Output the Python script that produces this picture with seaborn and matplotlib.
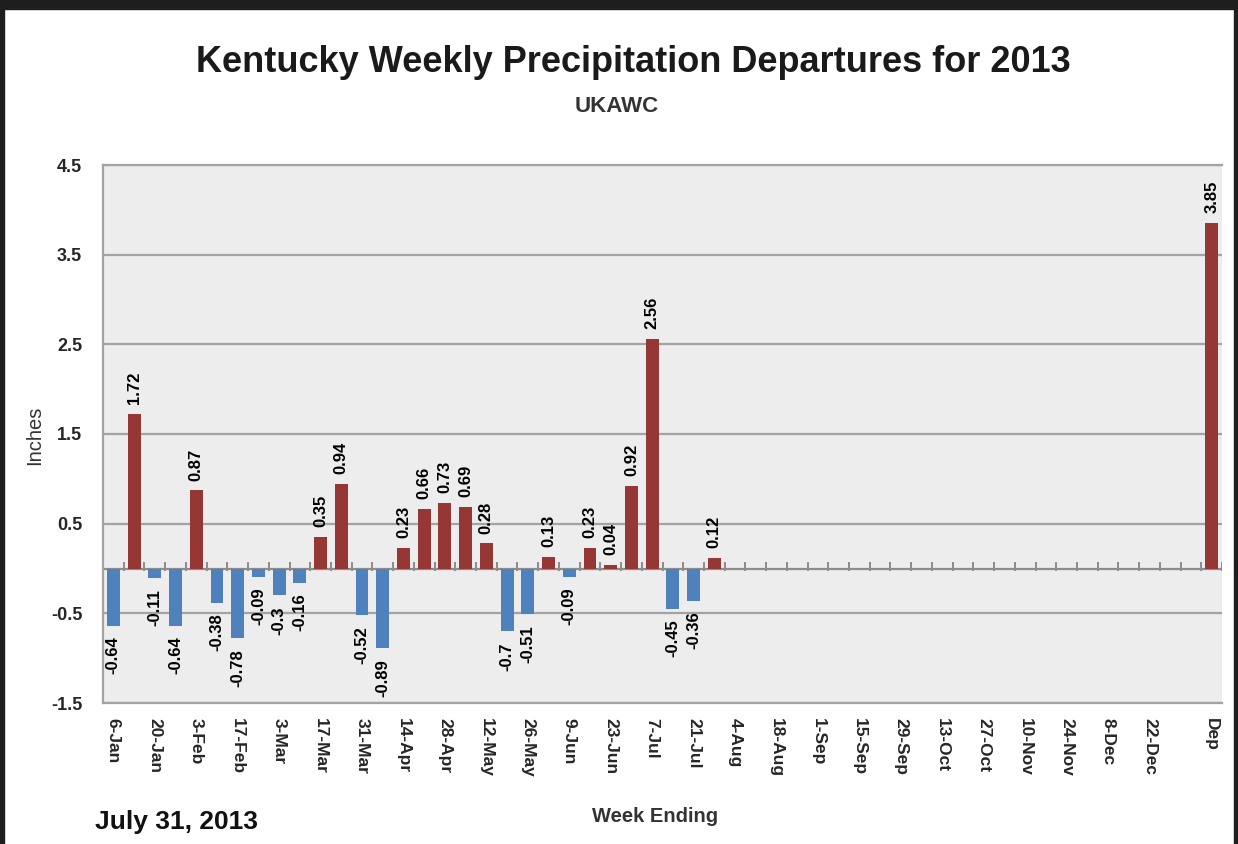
import numpy as np
import pandas as pd
import matplotlib
matplotlib.use("Agg")
import matplotlib.pyplot as plt
from matplotlib.patches import Rectangle
import seaborn as sns

# weekly departures (inches), weeks ending 6-Jan .. 29-Dec
weeks = ["6-Jan", "13-Jan", "20-Jan", "27-Jan", "3-Feb", "10-Feb", "17-Feb", "24-Feb",
         "3-Mar", "10-Mar", "17-Mar", "24-Mar", "31-Mar", "7-Apr", "14-Apr", "21-Apr",
         "28-Apr", "5-May", "12-May", "19-May", "26-May", "2-Jun", "9-Jun", "16-Jun",
         "23-Jun", "30-Jun", "7-Jul", "14-Jul", "21-Jul", "28-Jul", "4-Aug", "11-Aug",
         "18-Aug", "25-Aug", "1-Sep", "8-Sep", "15-Sep", "22-Sep", "29-Sep", "6-Oct",
         "13-Oct", "20-Oct", "27-Oct", "3-Nov", "10-Nov", "17-Nov", "24-Nov", "1-Dec",
         "8-Dec", "15-Dec", "22-Dec", "29-Dec"]
departures = [-0.64, 1.72, -0.11, -0.64, 0.87, -0.38, -0.78, -0.09, -0.3, -0.16,
              0.35, 0.94, -0.52, -0.89, 0.23, 0.66, 0.73, 0.69, 0.28, -0.7,
              -0.51, 0.13, -0.09, 0.23, 0.04, 0.92, 2.56, -0.45, -0.36, 0.12]
dep_label = "Dep"
dep_value = 3.85
y_ticks = [-1.5, -0.5, 0.5, 1.5, 2.5, 3.5, 4.5]

RED = "#953735"
BLUE = "#4f81bd"
GRID = "#a3a3a3"

# full category list: 52 weeks, one empty slot, then the year-to-date departure
categories = weeks + [" ", dep_label]
values = departures + [np.nan] * (len(weeks) - len(departures)) + [np.nan, dep_value]
df = pd.DataFrame({"week": categories, "value": values})
df["sign"] = np.where(df["value"] < 0, "neg", "pos")

sns.set_theme(style="white")
plt.rcParams["font.family"] = ["Liberation Sans", "DejaVu Sans"]
plt.rcParams["axes.unicode_minus"] = False

fig = plt.figure(figsize=(12.38, 8.44), dpi=100)
ax = fig.add_axes([103 / 1238, 1 - 703 / 844, 1119 / 1238, 538 / 844])
ax.set_facecolor("#ededed")

sns.barplot(data=df, x="week", y="value", hue="sign", order=categories,
            hue_order=["pos", "neg"], palette={"pos": RED, "neg": BLUE},
            dodge=False, width=0.62, saturation=1, errorbar=None,
            legend=False, ax=ax, zorder=3, linewidth=0)

ax.set_xlim(-0.5, len(categories) - 0.5)
ax.set_ylim(-1.5, 4.5)
ax.set_yticks(y_ticks)
ax.set_yticklabels([f"{t:g}" for t in y_ticks], fontsize=13, fontweight="bold")
ax.yaxis.grid(True, color=GRID, lw=1.6, zorder=0)
ax.xaxis.grid(False)
ax.set_axisbelow(True)
ax.tick_params(axis="y", length=5, width=1.4, color=GRID, direction="out", pad=10)

# tick labels every other week plus the departure bar
tick_pos = list(range(0, len(weeks), 2)) + [len(categories) - 1]
tick_lab = weeks[::2] + [dep_label]
ax.set_xticks(tick_pos)
ax.set_xticklabels(tick_lab, rotation=270, ha="center", va="top",
                   fontsize=12.5, fontweight="bold")
ax.tick_params(axis="x", length=0, pad=11)
ax.set_xlabel("")
ax.set_ylabel("")

for side in ["top", "bottom", "left"]:
    ax.spines[side].set_color(GRID)
    ax.spines[side].set_linewidth(1.6)
ax.spines["right"].set_visible(False)

# zero line with category tick marks
ax.axhline(0, color="#8c8c8c", lw=1.6, zorder=2)
ax.vlines(np.arange(len(categories) + 1) - 0.5, -0.03, 0.07,
          color="#8c8c8c", lw=1.4, zorder=2)

# value labels
for i, v in enumerate(values):
    if np.isnan(v):
        continue
    if v >= 0:
        ax.text(i, v + 0.11, f"{v:g}", rotation=90, ha="center", va="bottom",
                fontsize=12, fontweight="bold", color="black", zorder=4)
    else:
        ax.text(i, v - 0.12, f"{v:g}", rotation=90, ha="center", va="top",
                fontsize=12, fontweight="bold", color="black", zorder=4)

fig.text(633 / 1238, 1 - 62 / 844, "Kentucky Weekly Precipitation Departures for 2013",
         ha="center", va="center", fontsize=26, fontweight="bold", color="#1a1a1a")
fig.text(617 / 1238, 1 - 107 / 844, "UKAWC", ha="center", va="center",
         fontsize=16, fontweight="bold", color="#333333")
fig.text(35 / 1238, 1 - 435 / 844, "Inches", rotation=90, ha="center", va="center",
         fontsize=14.5, color="#333333")
fig.text(655 / 1238, 1 - 817 / 844, "Week Ending", ha="center", va="center",
         fontsize=14.5, fontweight="bold", color="#333333")
fig.text(95 / 1238, 1 - 822 / 844, "July 31, 2013", ha="left", va="center",
         fontsize=19, fontweight="bold", color="#111111")

# dark frame around the screenshot
fig.add_artist(Rectangle((0, 1 - 9 / 844), 1, 9 / 844, transform=fig.transFigure,
                         color="#1e1e1e", zorder=10))
fig.add_artist(Rectangle((0, 0), 4 / 1238, 1, transform=fig.transFigure,
                         color="#1e1e1e", zorder=10))
fig.add_artist(Rectangle((1 - 4 / 1238, 0), 4 / 1238, 1, transform=fig.transFigure,
                         color="#1e1e1e", zorder=10))

fig.savefig("out.png", dpi=100, facecolor="white")
